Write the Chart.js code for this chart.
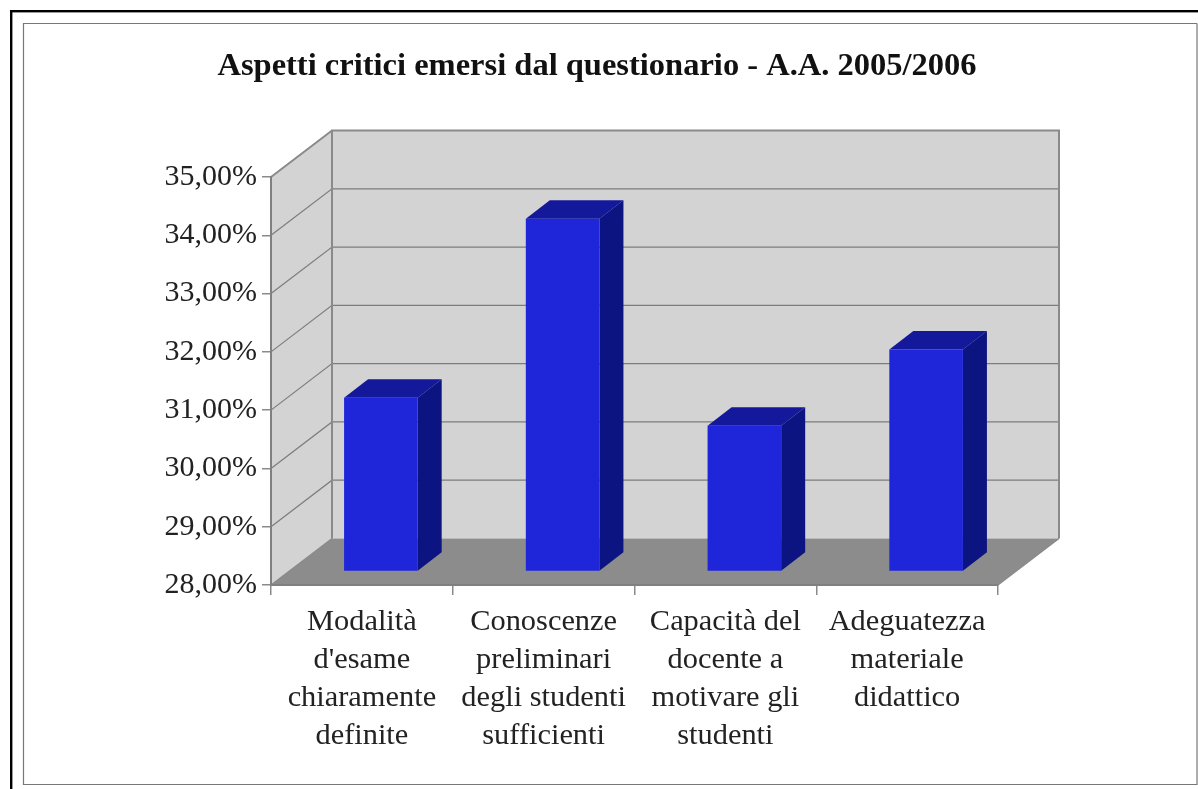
<!DOCTYPE html>
<html>
<head>
<meta charset="utf-8">
<style>html,body{margin:0;padding:0;background:#fff;overflow:hidden}canvas{display:block}</style>
<script src="https://cdn.jsdelivr.net/npm/chart.js@4"></script>
</head>
<body>
<canvas id="c" width="1198" height="789"></canvas>
<script>
const titleText = 'Aspetti critici emersi dal questionario - A.A. 2005/2006';
const categories = [
  ['Modalità', "d'esame", 'chiaramente', 'definite'],
  ['Conoscenze', 'preliminari', 'degli studenti', 'sufficienti'],
  ['Capacità del', 'docente a', 'motivare gli', 'studenti'],
  ['Adeguatezza', 'materiale', 'didattico']
];
const values = [30.98, 34.05, 30.50, 31.81];
const axisMin = 28;
const axisMax = 35;
const axisStep = 1;

const WALL_DX = 61, WALL_DY = -46.5;
const BAR_DX = 19, BAR_DY = -13.5;
const DEPTH_DX = 24, DEPTH_DY = -18.5;

function poly(ctx, pts, fill, stroke, lw) {
  ctx.beginPath();
  pts.forEach((p, i) => i ? ctx.lineTo(p[0], p[1]) : ctx.moveTo(p[0], p[1]));
  ctx.closePath();
  if (fill) { ctx.fillStyle = fill; ctx.fill(); }
  if (stroke) { ctx.strokeStyle = stroke; ctx.lineWidth = lw || 1; ctx.stroke(); }
}

const scene3d = {
  id: 'scene3d',
  beforeDraw(chart) {
    const ctx = chart.ctx, a = chart.chartArea, y = chart.scales.y;
    const L = a.left, R = a.right, T = a.top, B = a.bottom;
    ctx.save();
    // frames
    ctx.fillStyle = '#000';
    ctx.fillRect(10, 10, 1188, 2.4);
    ctx.fillRect(10, 10, 2.4, 779);
    ctx.strokeStyle = '#777';
    ctx.lineWidth = 1.2;
    ctx.beginPath();
    ctx.moveTo(1197, 23.5); ctx.lineTo(23.5, 23.5); ctx.lineTo(23.5, 784.5); ctx.lineTo(1197, 784.5); ctx.lineTo(1197, 23.5);
    ctx.stroke();
    // walls and floor
    const wall = '#d3d3d3', edge = '#8a8a8a';
    poly(ctx, [[L + WALL_DX, T + WALL_DY], [R + WALL_DX, T + WALL_DY], [R + WALL_DX, B + WALL_DY], [L + WALL_DX, B + WALL_DY]], wall);
    poly(ctx, [[L, T], [L + WALL_DX, T + WALL_DY], [L + WALL_DX, B + WALL_DY], [L, B]], wall);
    poly(ctx, [[L, B], [L + WALL_DX, B + WALL_DY], [R + WALL_DX, B + WALL_DY], [R, B]], '#8c8c8c');
    // value gridlines across side wall and back wall
    ctx.strokeStyle = '#7d7d7d';
    ctx.lineWidth = 1.2;
    y.ticks.forEach(t => {
      const py = y.getPixelForValue(t.value);
      if (t.value === axisMin || t.value === axisMax) return;
      ctx.beginPath();
      ctx.moveTo(L, py);
      ctx.lineTo(L + WALL_DX, py + WALL_DY);
      ctx.lineTo(R + WALL_DX, py + WALL_DY);
      ctx.stroke();
    });
    // edges
    ctx.strokeStyle = edge;
    ctx.lineWidth = 2;
    ctx.beginPath();
    ctx.moveTo(L + WALL_DX, B + WALL_DY); ctx.lineTo(L + WALL_DX, T + WALL_DY); ctx.lineTo(R + WALL_DX, T + WALL_DY); ctx.lineTo(R + WALL_DX, B + WALL_DY);
    ctx.moveTo(L, T); ctx.lineTo(L + WALL_DX, T + WALL_DY);
    ctx.stroke();
    ctx.lineWidth = 1.2;
    ctx.beginPath();
    ctx.moveTo(L, B); ctx.lineTo(L + WALL_DX, B + WALL_DY);
    ctx.moveTo(R, B); ctx.lineTo(R + WALL_DX, B + WALL_DY);
    ctx.stroke();
    ctx.restore();
  },
  beforeDatasetsDraw(chart) {
    const ctx = chart.ctx;
    ctx.save();
    ctx.translate(BAR_DX, BAR_DY);
    chart.getDatasetMeta(0).data.forEach(el => {
      const l = el.x - el.width / 2, r = el.x + el.width / 2, t = el.y, b = el.base;
      poly(ctx, [[l, t], [l + DEPTH_DX, t + DEPTH_DY], [r + DEPTH_DX, t + DEPTH_DY], [r, t]], '#14199b');
      poly(ctx, [[r, t], [r + DEPTH_DX, t + DEPTH_DY], [r + DEPTH_DX, b + DEPTH_DY], [r, b]], '#0c1482');
    });
  },
  afterDatasetsDraw(chart) {
    chart.ctx.restore();
  }
};

new Chart(document.getElementById('c'), {
  type: 'bar',
  data: {
    labels: categories,
    datasets: [{
      data: values,
      base: axisMin,
      yAxisID: 'y',
      backgroundColor: '#1f26da',
      borderWidth: 0,
      barPercentage: 0.405,
      categoryPercentage: 1,
      clip: false
    }]
  },
  plugins: [scene3d],
  options: {
    responsive: false,
    animation: false,
    layout: { padding: { left: 0, right: 4, top: 0, bottom: 0 } },
    plugins: {
      legend: { display: false },
      tooltip: { enabled: false },
      title: {
        display: true,
        text: titleText,
        color: '#111',
        font: { family: '"Liberation Serif"', size: 32.5, weight: 'bold', lineHeight: 1.2 },
        padding: { top: 47, bottom: 91 }
      }
    },
    scales: {
      x: {
        grid: { drawOnChartArea: false, drawTicks: true, tickLength: 10, color: '#8a8a8a', lineWidth: 1.5, offset: true },
        border: { color: '#808080', width: 2 },
        ticks: {
          color: '#222',
          font: { family: '"Liberation Serif"', size: 30.4, lineHeight: 1.25 },
          padding: 8,
          maxRotation: 0,
          autoSkip: false
        },
        afterFit(s) { s.height = 204; }
      },
      y: {
        min: axisMin,
        max: axisMax,
        grid: { drawOnChartArea: false, drawTicks: true, tickLength: 9, color: '#8a8a8a', lineWidth: 1.5 },
        border: { color: '#808080', width: 2 },
        ticks: {
          stepSize: axisStep,
          color: '#222',
          font: { family: '"Liberation Serif"', size: 30 },
          padding: 5,
          callback: v => v.toFixed(2).replace('.', ',') + '%'
        },
        afterFit(s) { s.width = 271; }
      },
      spacer: {
        type: 'linear',
        position: 'right',
        grid: { display: false },
        border: { display: false },
        ticks: { display: false },
        afterFit(s) { s.width = 196; }
      }
    }
  }
});
</script>
</body>
</html>
